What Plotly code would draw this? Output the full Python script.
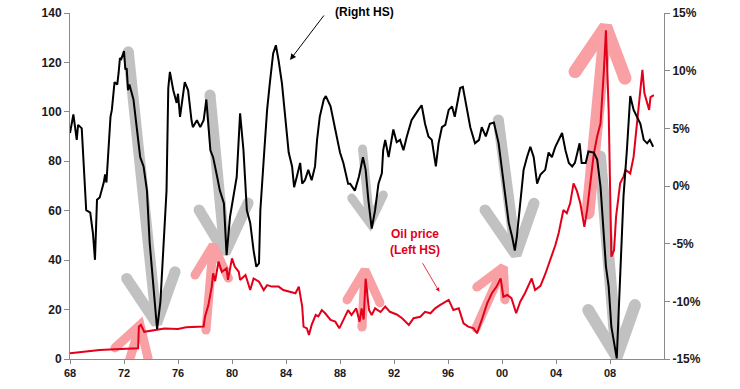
import plotly.graph_objects as go

# ---------------- data ----------------
# Black line: growth y/y (%), right-hand scale
growth_year = [1968.0, 1968.25, 1968.5, 1968.6, 1968.87, 1969.0, 1969.2, 1969.5, 1969.7, 1969.85,
               1970.0, 1970.2, 1970.5, 1970.6, 1970.7, 1971.0, 1971.1, 1971.3, 1971.5, 1971.6,
               1971.7, 1971.8, 1972.0, 1972.1, 1972.2, 1972.3, 1972.4, 1972.7, 1972.95, 1973.2,
               1973.45, 1973.7, 1973.9, 1974.2, 1974.45, 1974.7, 1974.95, 1975.15, 1975.28, 1975.4,
               1975.65, 1975.9, 1976.0, 1976.15, 1976.5, 1976.75, 1977.0, 1977.1, 1977.4, 1977.65,
               1977.9, 1978.1, 1978.4, 1978.6, 1978.9, 1979.1, 1979.4, 1979.6, 1979.85, 1980.1,
               1980.35, 1980.6, 1980.85, 1981.1, 1981.35, 1981.6, 1981.8, 1982.0, 1982.1, 1982.35,
               1982.6, 1982.8, 1983.05, 1983.25, 1983.45, 1983.7, 1983.95, 1984.2, 1984.45, 1984.6,
               1984.8, 1985.05, 1985.2, 1985.4, 1985.65, 1985.9, 1986.15, 1986.3, 1986.5, 1986.8,
               1986.95, 1987.3, 1987.65, 1988.0, 1988.25, 1988.6, 1988.75, 1989.1, 1989.4, 1989.7,
               1989.9, 1990.1, 1990.35, 1990.6, 1990.85, 1991.1, 1991.2, 1991.35, 1991.6, 1991.95,
               1992.2, 1992.45, 1992.7, 1992.95, 1993.3, 1993.6, 1993.8, 1994.05, 1994.3, 1994.55,
               1994.8, 1995.1, 1995.3, 1995.55, 1995.8, 1996.05, 1996.3, 1996.5, 1996.9, 1997.1,
               1997.4, 1997.65, 1998.0, 1998.3, 1998.5, 1998.8, 1999.1, 1999.4, 1999.75, 2000.0,
               2000.25, 2000.5, 2000.75, 2000.95, 2001.1, 2001.35, 2001.6, 2001.85, 2002.1, 2002.35,
               2002.6, 2002.85, 2003.2, 2003.45, 2003.7, 2003.95, 2004.2, 2004.45, 2004.7, 2004.95,
               2005.2, 2005.4, 2005.75, 2005.9, 2006.2, 2006.4, 2006.8, 2007.05, 2007.3, 2007.5,
               2007.7, 2007.9, 2008.1, 2008.35, 2008.5, 2008.75, 2009.0, 2009.25, 2009.5, 2009.75,
               2010.0, 2010.25, 2010.5, 2010.75, 2010.95, 2011.2]
growth_pct = [4.6, 6.2, 4.0, 5.3, 5.0, 2.5, -2.1, -2.3, -4.1, -6.4,
              -1.2, -1.0, 0.3, 1.0, 0.3, 6.0, 6.6, 9.0, 8.8, 9.8,
              11.1, 11.0, 11.7, 10.1, 10.2, 8.3, 8.8, 7.5, 5.1, 2.5,
              1.7, -0.4, -4.9, -8.7, -12.4, -10.0, -4.5, -0.4, 8.5, 9.9,
              8.3, 7.2, 8.0, 6.0, 9.0, 8.3, 5.7, 5.1, 5.7, 5.1,
              5.7, 7.5, 3.1, 2.5, 0.8, -0.4, -1.5, -6.0, -2.7, -0.9,
              0.8, 6.3, 3.1, -2.1, -3.2, -5.6, -7.0, -6.7, -2.1, 2.3,
              6.6, 8.9, 11.5, 12.2, 10.9, 8.9, 5.7, 2.9, 1.7, -0.1,
              0.8, 2.0, 0.2, 0.5, 1.4, 0.5, 1.7, 4.0, 6.0, 7.5,
              7.8, 6.9, 4.9, 2.9, 2.0, 0.2, 0.2, -0.4, 0.8, 2.5,
              1.4, -1.2, -3.7, -2.1, 0.2, 1.1, 3.1, 4.0, 2.5, 4.9,
              3.8, 4.0, 3.1, 4.3, 5.7, 6.3, 6.6, 7.0, 5.4, 4.3,
              4.0, 1.7, 3.7, 5.1, 5.3, 6.6, 6.9, 6.0, 8.5, 8.6,
              6.6, 5.1, 3.7, 4.0, 5.1, 4.3, 5.4, 5.5, 3.7, 1.4,
              -0.9, -3.2, -4.4, -5.6, -4.4, -1.5, 1.4, 2.5, 3.4, 2.5,
              0.2, 1.0, 1.4, 2.9, 2.5, 3.4, 4.0, 4.6, 3.1, 2.0,
              1.7, 2.0, 3.7, 2.0, 2.0, 3.0, 2.9, 2.3, -0.1, -3.5,
              -7.0, -8.7, -12.2, -13.9, -14.95, -7.9, -0.9, 3.1, 7.8, 6.6,
              6.0, 5.4, 4.0, 3.7, 4.0, 3.4]

# Red line: oil price (USD), left-hand scale
oil_year = [1968.0, 1969.1, 1970.2, 1971.3, 1972.9, 1973.05, 1973.1, 1973.25, 1973.5, 1974.05,
            1974.8, 1975.0, 1976.0, 1976.6, 1977.9, 1978.0, 1978.25, 1978.5, 1978.6, 1978.75,
            1979.0, 1979.25, 1979.6, 1979.7, 1980.0, 1980.2, 1980.5, 1980.6, 1981.0, 1981.2,
            1981.35, 1981.6, 1982.0, 1982.35, 1982.6, 1982.95, 1983.45, 1983.8, 1984.3, 1984.7,
            1984.95, 1985.2, 1985.3, 1985.55, 1985.7, 1985.9, 1986.2, 1986.4, 1986.65, 1986.9,
            1987.3, 1987.65, 1987.95, 1988.25, 1988.6, 1988.85, 1989.2, 1989.45, 1989.6, 1989.75,
            1989.9, 1990.15, 1990.35, 1990.6, 1991.0, 1991.35, 1991.7, 1992.2, 1992.6, 1993.1,
            1993.45, 1993.95, 1994.3, 1994.7, 1995.05, 1995.4, 1995.8, 1996.05, 1996.4, 1996.8,
            1997.15, 1997.5, 1997.9, 1998.15, 1998.5, 1998.9, 1999.25, 1999.6, 1999.9, 2000.1,
            2000.4, 2000.7, 2001.05, 2001.35, 2001.7, 2002.2, 2002.45, 2002.85, 2003.2, 2003.6,
            2003.95, 2004.2, 2004.55, 2004.8, 2005.05, 2005.3, 2005.55, 2005.8, 2005.9, 2006.1,
            2006.3, 2006.55, 2006.8, 2007.05, 2007.3, 2007.55, 2007.7, 2007.9, 2008.1, 2008.3,
            2008.45, 2008.75, 2009.0, 2009.15, 2009.5, 2009.75, 2010.0, 2010.2, 2010.4, 2010.55,
            2010.75, 2010.9, 2011.0, 2011.25]
oil_usd = [2.3, 3.0, 3.6, 3.9, 4.3, 4.3, 13.1, 13.8, 11.0, 11.5,
           12.0, 12.3, 12.1, 12.8, 13.1, 17.1, 21.8, 29.3, 34.7, 31.5,
           39.4, 35.3, 36.7, 32.0, 40.7, 37.4, 35.3, 32.0, 34.0, 30.6,
           27.9, 32.6, 31.3, 27.9, 29.9, 29.3, 29.3, 27.9, 27.3, 26.6,
           29.3, 21.2, 13.1, 12.4, 9.7, 13.8, 17.8, 17.2, 19.8, 18.5,
           15.8, 15.1, 12.4, 15.8, 19.8, 17.8, 20.5, 15.1, 20.5, 16.0,
           32.5, 19.8, 17.8, 20.5, 19.0, 21.2, 19.1, 18.0, 16.5, 13.8,
           16.5, 17.1, 19.1, 18.5, 20.5, 21.8, 23.2, 23.9, 19.8, 20.5,
           14.4, 13.1, 12.4, 10.4, 15.8, 22.5, 26.6, 29.3, 32.6, 25.2,
           25.9, 24.6, 18.5, 23.2, 26.6, 32.6, 27.9, 29.6, 34.3, 40.5,
           46.0, 51.0, 60.3, 59.0, 63.0, 71.0, 68.0, 63.0, 60.0, 53.5,
           60.0, 71.0, 83.0, 90.0, 95.4, 117.0, 133.0, 100.8, 41.4, 44.0,
           57.6, 71.1, 73.8, 76.5, 75.1, 81.9, 95.4, 103.5, 117.0, 107.5,
           103.5, 100.8, 106.0, 106.8]

# Annotation arrows: (tail_year, tail_val, tip_year, tip_val, arm1_year, arm1_val, arm2_year, arm2_val)
grey_arrows = [
    (1972.32, 124.3, 1974.42, 14.4, 1972.20, 32.6, 1975.78, 35.3),
    (1978.37, 106.8, 1979.48, 42.9, 1977.56, 60.3, 1981.19, 63.1),
    (1989.67, 85.0, 1990.22, 55.0, 1988.87, 65.1, 1991.21, 66.4),
    (1999.73, 96.7, 2001.04, 42.1, 1998.74, 60.3, 2002.37, 63.0),
    (2007.26, 81.9, 2008.50, 0.9, 2006.39, 19.8, 2009.85, 21.8),
]
grey_widths = [11, 11, 9, 11, 12]
pink_arrows = [
    (1972.30, -2.4, 1973.19, 13.8, 1971.33, 4.5, 1973.78, 0.4),
    (1978.07, 11.7, 1978.61, 46.1, 1977.26, 34.0, 1979.73, 32.7),
    (1989.63, 12.9, 1989.85, 36.0, 1988.52, 23.9, 1990.96, 22.7),
    (1998.07, 12.5, 2000.10, 37.2, 1998.13, 29.1, 2000.22, 23.9),
    (2006.37, 59.1, 2007.68, 134.5, 2005.41, 116.3, 2009.11, 113.6),
]
pink_widths = [9, 9, 9, 9, 13]

x_tickvals = [1968, 1972, 1976, 1980, 1984, 1988, 1992, 1996, 2000, 2004, 2008]
x_ticktext = ["68", "72", "76", "80", "84", "88", "92", "96", "00", "04", "08"]
y_left_ticks = [0, 20, 40, 60, 80, 100, 120, 140]
y_right_ticks = [-15, -10, -5, 0, 5, 10, 15]
y_right_text = ["-15%", "-10%", "-5%", "0%", "5%", "10%", "15%"]

GREY = "#c1c1c1"
PINK = "#f8a0a3"
RED = "#e3001b"
AXIS = "#8a8a8a"
FONT = "Arial, Liberation Sans, sans-serif"

fig = go.Figure()


def add_arrow(a, color, width):
    tx, ty, px, py, a1x, a1y, a2x, a2y = a
    fig.add_trace(go.Scatter(
        x=[tx, px, None, a1x, px, a2x],
        y=[ty, py, None, a1y, py, a2y],
        mode="lines", line=dict(color=color, width=width),
        hoverinfo="skip", showlegend=False, yaxis="y"))
    fig.add_trace(go.Scatter(
        x=[tx, a1x, a2x], y=[ty, a1y, a2y], mode="markers",
        marker=dict(color=color, size=width, line=dict(width=0)),
        hoverinfo="skip", showlegend=False, yaxis="y"))


for a, w in zip(grey_arrows, grey_widths):
    add_arrow(a, GREY, w)
for a, w in zip(pink_arrows, pink_widths):
    add_arrow(a, PINK, w)

fig.add_trace(go.Scatter(x=growth_year, y=growth_pct, mode="lines",
                         line=dict(color="black", width=2), yaxis="y2",
                         showlegend=False))
fig.add_trace(go.Scatter(x=oil_year, y=oil_usd, mode="lines",
                         line=dict(color=RED, width=2), yaxis="y",
                         showlegend=False))

tickfont = dict(family=FONT, size=12, color="#1a1a1a", weight="bold")

fig.update_layout(
    width=740, height=389,
    margin=dict(l=70, r=76, t=13, b=30, autoexpand=False),
    paper_bgcolor="white", plot_bgcolor="white",
    font=dict(family=FONT),
    xaxis=dict(range=[1968, 2012], tickvals=x_tickvals, ticktext=x_ticktext,
               showgrid=False, zeroline=False, showline=True, linecolor=AXIS,
               linewidth=1, ticks="outside", ticklen=4, tickcolor=AXIS, automargin=False,
               tickfont=dict(family=FONT, size=11, color="#1a1a1a", weight="bold")),
    yaxis=dict(range=[0, 140], tickvals=y_left_ticks, showgrid=False, zeroline=False,
               showline=True, linecolor=AXIS, linewidth=1, ticks="outside", automargin=False,
               ticklen=5, tickcolor=AXIS, tickfont=tickfont),
    yaxis2=dict(range=[-15, 15], tickvals=y_right_ticks, ticktext=y_right_text,
                overlaying="y", side="right", showgrid=False, zeroline=False,
                showline=True, linecolor=AXIS, linewidth=1, ticks="outside", automargin=False,
                ticklen=5, tickcolor=AXIS, tickfont=tickfont),
    annotations=[
        dict(x=1989.78, y=1.003, xref="x", yref="paper", text="(Right HS)",
             showarrow=False, yanchor="middle",
             font=dict(family=FONT, size=12, color="black", weight="bold")),
        dict(x=1984.30, y=121.0, ax=1986.89, ay=139.6, xref="x", yref="y",
             axref="x", ayref="y", text="", showarrow=True, arrowhead=2,
             arrowsize=1.2, arrowwidth=1, arrowcolor="black"),
        dict(x=1993.56, y=47.3, xref="x", yref="y", text="Oil price<br>(Left HS)",
             showarrow=False, font=dict(family=FONT, size=12, color=RED, weight="bold")),
        dict(x=1995.36, y=27.2, ax=1994.05, ay=39.4, xref="x", yref="y",
             axref="x", ayref="y", text="", showarrow=True, arrowhead=2,
             arrowsize=1, arrowwidth=0.8, arrowcolor=RED),
    ],
)

fig.write_html("out.html", config={"displayModeBar": False},
               post_script="document.body.style.margin='0';document.body.style.overflow='hidden';")
